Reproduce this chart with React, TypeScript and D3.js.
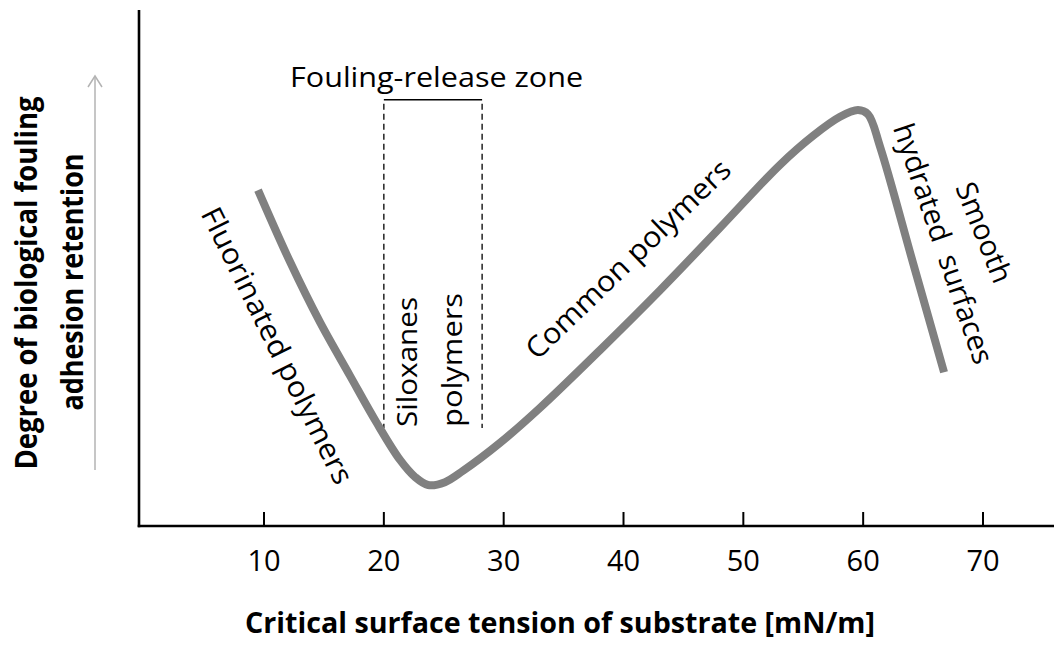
import React from "react";
import * as d3 from "d3";

// curve: x = critical surface tension, y = relative fouling retention
const curveX = [9.5, 12.17, 14.67, 17.18, 19.35, 21.35, 22.6, 23.69, 25.1, 26.61, 29.69, 33.03, 38.04, 43.05, 48.05, 53.06, 55.81, 58.07, 59.57, 60.4, 61.41, 64.16, 66.75];
const curveY = [65.1, 51.2, 39.5, 29.1, 20.2, 12.8, 9.5, 7.95, 8.5, 10.7, 16.1, 22.9, 34.1, 45.7, 57.8, 70.0, 75.6, 79.3, 80.6, 79.8, 73.5, 51.0, 29.8];

const tickValues = [10, 20, 30, 40, 50, 60, 70];
const tickLabels = ["10", "20", "30", "40", "50", "60", "70"];

// fouling-release zone bounds
const zoneX = [20, 28.2];
const zoneY = [19, 82.6];

const xTitle = "Critical surface tension of substrate [mN/m]";
const yTitle = ["Degree of biological fouling", "adhesion retention"];

const W = 1054;
const H = 650;
const font = "'Open Sans', 'Noto Sans', sans-serif";

export default function App() {
  const x = d3.scaleLinear().domain([0, 75]).range([144.2, 1042.9]);
  const y = d3.scaleLinear().domain([0, 100]).range([526, 10]);

  const pts: [number, number][] = curveX.map((v, i) => [v, curveY[i]]);
  const line = d3
    .line<[number, number]>()
    .x((d) => x(d[0]))
    .y((d) => y(d[1]))
    .curve(d3.curveCatmullRom.alpha(0.5));

  const axisX = 139;
  const axisY = 526;

  // annotation anchors (data coords)
  const fluor = { x: x(11.2), y: y(35.1) };
  const common = { x: x(40.3), y: y(51.9) };
  const smooth = { x: x(70.2), y: y(57.0) };
  const hydrated = { x: x(66.8), y: y(54.8) };

  return (
    <svg
      width={W}
      height={H}
      style={{ position: "absolute", left: 0, top: 0, background: "#fff" }}
      fontFamily={font}
    >
      {/* axes */}
      <line x1={axisX} y1={10} x2={axisX} y2={axisY + 1.3} stroke="#000" strokeWidth={2.6} />
      <line x1={axisX - 1.3} y1={axisY} x2={W} y2={axisY} stroke="#000" strokeWidth={2.6} />
      {tickValues.map((t, i) => (
        <g key={t}>
          <line x1={x(t)} x2={x(t)} y1={axisY} y2={axisY - 14} stroke="#000" strokeWidth={2} />
          <text x={x(t)} y={571} textAnchor="middle" fontSize={29} fill="#000">
            {tickLabels[i]}
          </text>
        </g>
      ))}

      {/* axis titles */}
      <text
        x={560}
        y={633}
        textAnchor="middle"
        fontSize={28}
        fontWeight="bold"
        textLength={630}
        lengthAdjust="spacingAndGlyphs"
      >
        {xTitle}
      </text>
      <text
        transform={`translate(37,283) rotate(-90)`}
        textAnchor="middle"
        fontSize={31}
        fontWeight="bold"
        textLength={373}
        lengthAdjust="spacingAndGlyphs"
      >
        {yTitle[0]}
      </text>
      <text
        transform={`translate(83,282) rotate(-90)`}
        textAnchor="middle"
        fontSize={31}
        fontWeight="bold"
        textLength={257}
        lengthAdjust="spacingAndGlyphs"
      >
        {yTitle[1]}
      </text>

      {/* gray arrow */}
      <g stroke="#b3b3b3" strokeWidth={1.5} fill="none">
        <line x1={95} y1={470} x2={95} y2={76} />
        <polyline points="88,87 95,76 102,87" />
      </g>

      {/* fouling-release zone */}
      <line x1={x(zoneX[0])} x2={x(zoneX[1])} y1={y(zoneY[1])} y2={y(zoneY[1])} stroke="#000" strokeWidth={1.4} />
      {zoneX.map((z) => (
        <line
          key={z}
          x1={x(z)}
          x2={x(z)}
          y1={y(zoneY[1]) + 4}
          y2={y(zoneY[0])}
          stroke="#000"
          strokeWidth={1.3}
          strokeDasharray="6,4"
        />
      ))}
      <text
        x={x(24.4)}
        y={y(85)}
        textAnchor="middle"
        fontSize={28}
        textLength={293}
        lengthAdjust="spacingAndGlyphs"
      >
        Fouling-release zone
      </text>
      <text
        transform={`translate(${x(22.8)},${y(19.2)}) rotate(-90)`}
        fontSize={28}
        textLength={130}
        lengthAdjust="spacingAndGlyphs"
      >
        Siloxanes
      </text>
      <text
        transform={`translate(${x(26.5)},${y(19.2)}) rotate(-90)`}
        fontSize={28}
        textLength={134}
        lengthAdjust="spacingAndGlyphs"
      >
        polymers
      </text>

      {/* curve */}
      <path d={line(pts) ?? ""} fill="none" stroke="#808080" strokeWidth={8} strokeLinejoin="round" />

      {/* curve annotations */}
      <text
        transform={`translate(${fluor.x},${fluor.y}) rotate(63.6)`}
        textAnchor="middle"
        dominantBaseline="central"
        fontSize={29}
        textLength={305}
        lengthAdjust="spacingAndGlyphs"
      >
        Fluorinated polymers
      </text>
      <text
        transform={`translate(${common.x},${common.y}) rotate(-44)`}
        textAnchor="middle"
        dominantBaseline="central"
        fontSize={29}
        textLength={272}
        lengthAdjust="spacingAndGlyphs"
      >
        Common polymers
      </text>
      <text
        transform={`translate(${smooth.x},${smooth.y}) rotate(68)`}
        textAnchor="middle"
        dominantBaseline="central"
        fontSize={29}
      >
        Smooth
      </text>
      <text
        transform={`translate(${hydrated.x},${hydrated.y}) rotate(71)`}
        textAnchor="middle"
        dominantBaseline="central"
        fontSize={29}
        textLength={252}
        lengthAdjust="spacingAndGlyphs"
        style={{ whiteSpace: "pre" }}
      >
        {"hydrated  surfaces"}
      </text>
    </svg>
  );
}
